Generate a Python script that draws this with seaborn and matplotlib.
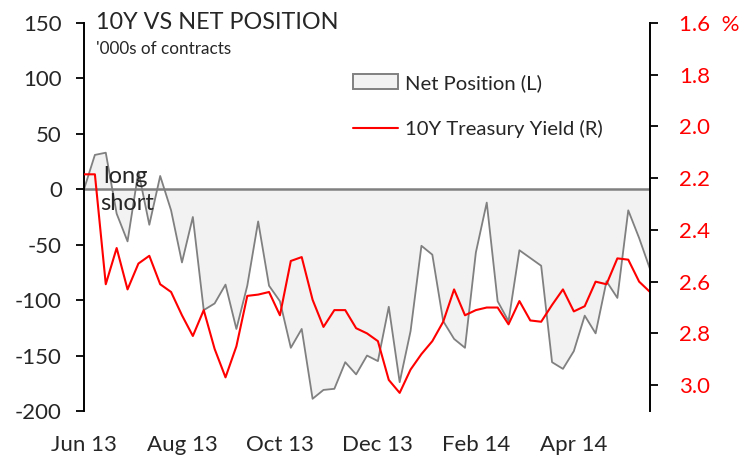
import numpy as np
import pandas as pd
import matplotlib.pyplot as plt
import seaborn as sns
from matplotlib.patches import Patch
from matplotlib.lines import Line2D

# weekly observations, Jun 2013 - May 2014
net_position = [0, 31, 33, -22, -47, 16, -32, 12, -19, -66,
                -25, -109, -103, -86, -126, -87, -29, -87, -101, -143,
                -126, -189, -181, -180, -156, -167, -150, -155, -106, -174,
                -128, -51, -59, -119, -135, -143, -57, -12, -101, -119,
                -55, -62, -69, -156, -162, -146, -114, -130, -83, -98,
                -19, -44, -72]
treasury_yield = [2.185, 2.185, 2.61, 2.47, 2.63, 2.53, 2.50, 2.61, 2.64, 2.73,
                  2.81, 2.71, 2.86, 2.97, 2.85, 2.655, 2.65, 2.64, 2.73, 2.52,
                  2.505, 2.67, 2.775, 2.71, 2.71, 2.78, 2.80, 2.83, 2.98, 3.03,
                  2.94, 2.88, 2.83, 2.755, 2.63, 2.73, 2.71, 2.70, 2.70, 2.765,
                  2.675, 2.75, 2.755, 2.69, 2.63, 2.715, 2.695, 2.60, 2.61, 2.51,
                  2.515, 2.60, 2.64]
week = np.arange(len(net_position))

tick_positions = [0, 9, 18, 27, 36, 45]
tick_labels = ["Jun 13", "Aug 13", "Oct 13", "Dec 13", "Feb 14", "Apr 14"]
left_ticks = [150, 100, 50, 0, -50, -100, -150, -200]
right_ticks = [1.6, 1.8, 2.0, 2.2, 2.4, 2.6, 2.8, 3.0]
right_labels = ["1.6  %", "1.8", "2.0", "2.2", "2.4", "2.6", "2.8", "3.0"]

df = pd.DataFrame({"week": week, "net": net_position, "yield": treasury_yield})

sns.set_theme(style="ticks")
plt.rcParams["font.family"] = ["Lato", "DejaVu Sans"]
plt.rcParams["axes.unicode_minus"] = False

GREY = "#808080"
FILL = "#f2f2f2"
RED = "#ff0000"

fig = plt.figure(figsize=(7.5, 4.61), dpi=100)
ax = fig.add_axes([0.112, 0.1085, 0.7547, 0.8416])

ax.fill_between(df["week"], df["net"], 0, color=FILL, lw=0)
sns.lineplot(data=df, x="week", y="net", color=GREY, lw=1.3, ax=ax)
ax.plot([52, 52], [0, net_position[-1]], color=GREY, lw=1.3)
ax.axhline(0, color=GREY, lw=1.8)

ax.set_xlim(0, 52)
ax.set_ylim(-200, 150)
ax.set_yticks(left_ticks)
ax.set_xticks(tick_positions)
ax.set_xticklabels(tick_labels, fontsize=16)
ax.tick_params(axis="x", length=0, pad=17)
ax.tick_params(axis="y", length=6, width=1.3, direction="out", labelsize=16,
               pad=10, color="black")
ax.set_xlabel("")
ax.set_ylabel("")
for side in ["top", "right", "bottom"]:
    ax.spines[side].set_visible(False)
ax.spines["left"].set_color("black")
ax.spines["left"].set_linewidth(1.4)

ax.text(1.8, 2, "long", fontsize=17, va="bottom", ha="left")
ax.text(1.45, -3, "short", fontsize=17, va="top", ha="left")

ax2 = ax.twinx()
sns.lineplot(data=df, x="week", y="yield", color=RED, lw=1.5, ax=ax2)
ax2.set_ylim(3.1, 1.6)
ax2.set_yticks(right_ticks)
ax2.set_yticklabels(right_labels)
ax2.tick_params(axis="y", length=6, width=1.3, direction="out", labelsize=16,
                pad=15, labelcolor=RED, color="black")
ax2.set_ylabel("")
for side in ["top", "left", "bottom"]:
    ax2.spines[side].set_visible(False)
ax2.spines["right"].set_color("black")
ax2.spines["right"].set_linewidth(1.4)

fig.text(96 / 750, 1 - 29 / 461, "10Y VS NET POSITION", fontsize=16.8, va="baseline")
fig.text(96 / 750, 1 - 54 / 461, "'000s of contracts", fontsize=12.3, va="baseline")

handles = [Patch(facecolor=FILL, edgecolor=GREY, lw=1.4),
           Line2D([], [], color=RED, lw=1.5)]
fig.legend(handles, ["Net Position (L)", "10Y Treasury Yield (R)"],
           loc="upper left", bbox_to_anchor=(353 / 750, 1 - 74 / 461),
           frameon=False, fontsize=14.6, handlelength=2.2, handleheight=0.75,
           handletextpad=0.35, labelspacing=1.38, borderaxespad=0, borderpad=0)

fig.savefig("out.png", dpi=100)
